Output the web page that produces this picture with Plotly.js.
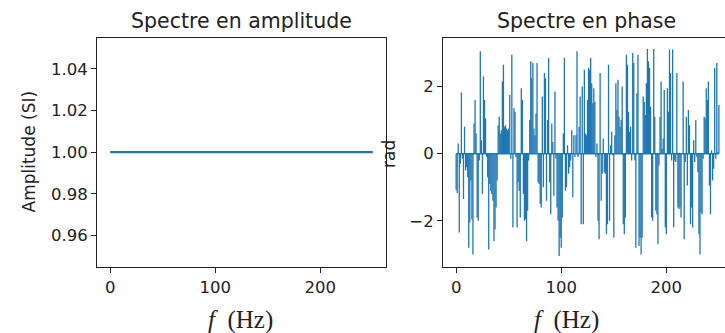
<!DOCTYPE html>
<html>
<head>
<meta charset="utf-8">
<script src="https://cdn.plot.ly/plotly-3.0.1.min.js"></script>
<style>html,body{margin:0;padding:0;background:#fff;}#chart{width:725px;height:333px;}</style>
</head>
<body>
<div id="chart"></div>
<script>
const freqs = [
0,1,2,3,4,5,6,7,8,9,10,11,12,13,14,15,16,17,18,19,20,21,22,23,24,25,26,27,28,29,
30,31,32,33,34,35,36,37,38,39,40,41,42,43,44,45,46,47,48,49,50,51,52,53,54,55,56,57,58,59,
60,61,62,63,64,65,66,67,68,69,70,71,72,73,74,75,76,77,78,79,80,81,82,83,84,85,86,87,88,89,
90,91,92,93,94,95,96,97,98,99,100,101,102,103,104,105,106,107,108,109,110,111,112,113,114,115,116,117,118,119,
120,121,122,123,124,125,126,127,128,129,130,131,132,133,134,135,136,137,138,139,140,141,142,143,144,145,146,147,148,149,
150,151,152,153,154,155,156,157,158,159,160,161,162,163,164,165,166,167,168,169,170,171,172,173,174,175,176,177,178,179,
180,181,182,183,184,185,186,187,188,189,190,191,192,193,194,195,196,197,198,199,200,201,202,203,204,205,206,207,208,209,
210,211,212,213,214,215,216,217,218,219,220,221,222,223,224,225,226,227,228,229,230,231,232,233,234,235,236,237,238,239,
240,241,242,243,244,245,246,247,248,249,250];

const amplitude = [
1,1,1,1,1,1,1,1,1,1,1,1,1,1,1,1,1,1,1,1,1,1,1,1,1,1,1,1,1,1,
1,1,1,1,1,1,1,1,1,1,1,1,1,1,1,1,1,1,1,1,1,1,1,1,1,1,1,1,1,1,
1,1,1,1,1,1,1,1,1,1,1,1,1,1,1,1,1,1,1,1,1,1,1,1,1,1,1,1,1,1,
1,1,1,1,1,1,1,1,1,1,1,1,1,1,1,1,1,1,1,1,1,1,1,1,1,1,1,1,1,1,
1,1,1,1,1,1,1,1,1,1,1,1,1,1,1,1,1,1,1,1,1,1,1,1,1,1,1,1,1,1,
1,1,1,1,1,1,1,1,1,1,1,1,1,1,1,1,1,1,1,1,1,1,1,1,1,1,1,1,1,1,
1,1,1,1,1,1,1,1,1,1,1,1,1,1,1,1,1,1,1,1,1,1,1,1,1,1,1,1,1,1,
1,1,1,1,1,1,1,1,1,1,1,1,1,1,1,1,1,1,1,1,1,1,1,1,1,1,1,1,1,1,
1,1,1,1,1,1,1,1,1,1,1];

const phase = [
-1.08,-1.18,0.3,-2.35,-0.3,1.82,-0.15,-1.35,0.8,-0.5,
-0.4,-0.7,-2.8,-2.05,-0.8,-1.95,-3.0,0.9,1.6,0.6,
-1.9,-2.0,-0.2,3.05,0.4,-1.2,2.3,1.6,1.05,-0.1,
-0.7,-2.85,-0.9,-1.1,-1.2,-1.4,-2.6,-2.25,-1.6,-0.8,
0.85,1.1,0.6,0.7,2.15,2.65,0.8,0.85,0.75,0.7,
0.75,1.75,-0.15,2.95,-2.2,1.35,1.25,-0.1,-2.2,-0.85,
-1.1,-1.9,1.95,1.6,-1.2,-2.0,-1.95,-2.6,-1.7,-0.2,
1.0,2.75,2.25,2.7,0.75,0.55,1.2,2.7,-0.85,-0.9,
-1.5,-1.6,1.7,-1.0,2.4,2.25,-1.4,1.0,2.85,-0.85,
-1.8,0.9,0.35,-1.25,1.85,-0.15,-1.6,-2.0,-3.05,-2.5,
-2.8,-1.9,0.6,2.85,-1.1,-1.0,0.25,-0.6,-0.4,-0.2,
0.7,-1.3,0.55,-0.1,0.55,3.05,-0.1,0.8,1.7,-2.1,
2.0,-2.1,2.5,0.6,0.55,1.6,2.55,2.5,2.85,2.1,
1.5,1.95,1.55,-0.1,0.3,-2.0,-2.55,2.4,-1.4,-0.6,
0.45,-0.55,-0.6,-2.4,-2.1,2.65,-2.0,0.25,0.65,-0.05,
-2.5,0.55,2.1,1.3,2.2,1.1,0.8,1.0,2.0,-2.1,
-2.4,-1.9,2.95,2.65,1.25,0.65,0.8,-0.2,3.0,2.7,
-0.2,-2.8,1.8,2.95,-2.75,-2.5,-3.0,-2.5,1.7,1.55,
1.15,2.1,3.12,2.75,2.55,1.4,-1.9,-2.0,3.12,1.1,
-1.7,-1.8,-2.7,-0.35,1.1,2.15,0.15,0.45,1.9,-2.2,
-2.4,1.95,1.25,3.1,2.4,-0.2,3.1,-2.2,-0.2,-0.25,
2.4,-1.6,-1.65,-1.6,-1.9,0.02,2.15,-2.55,-0.25,1.1,
-0.95,1.3,0.85,-2.1,-1.6,-2.2,0.4,-0.25,1.0,-0.1,
-0.55,-2.4,-3.0,-1.75,-1.8,-0.15,1.1,1.05,1.95,1.6,
2.15,-0.95,-1.8,0.1,-0.8,-0.45,2.55,-0.15,2.7,0.05,
1.45];

const ampTicks = [0.96, 0.98, 1.00, 1.02, 1.04];
const phaseTicks = [-2, 0, 2];
const freqTicks = [0, 100, 200];

const C0 = '#1f77b4';
const INK = '#222222';
const W = 725, H = 333;

// stems built from the data
const sx = [], sy = [];
for (let i = 0; i < freqs.length; i++) {
  sx.push(freqs[i], freqs[i], null);
  sy.push(0, phase[i], null);
}

const traces = [
  {x: freqs, y: amplitude, type: 'scatter', mode: 'lines', xaxis: 'x', yaxis: 'y',
   line: {color: C0, width: 2.2}, hoverinfo: 'skip'},
  {x: sx, y: sy, type: 'scatter', mode: 'lines', xaxis: 'x2', yaxis: 'y2',
   line: {color: C0, width: 1.3}, hoverinfo: 'skip'},
  {x: [freqs[0], freqs[freqs.length - 1]], y: [0, 0], type: 'scatter', mode: 'lines',
   xaxis: 'x2', yaxis: 'y2', line: {color: C0, width: 1.5}, hoverinfo: 'skip'}
];

const tickFont = {family: 'DejaVu Sans', size: 16.5, color: INK};
const ydom = [1 - 266.7 / H, 1 - 37.5 / H];
const common = {showgrid: false, zeroline: false, showline: true, linecolor: INK, linewidth: 1,
  ticks: 'outside', ticklen: 5, tickwidth: 1, tickcolor: INK, tickfont: tickFont};

const layout = {
  width: W, height: H,
  margin: {l: 0, r: 0, t: 0, b: 0},
  paper_bgcolor: '#fff', plot_bgcolor: '#fff',
  showlegend: false,
  xaxis: Object.assign({}, common, {domain: [97 / W, 386 / W], range: [-12.5, 262.5],
    tickvals: freqTicks, mirror: true, anchor: 'y'}),
  yaxis: Object.assign({}, common, {domain: ydom, range: [0.945, 1.055],
    tickvals: ampTicks, tickformat: '.2f', mirror: true, anchor: 'x'}),
  xaxis2: Object.assign({}, common, {domain: [443 / W, 1], range: [-12.5, -12.5 + 282 / 1.051],
    tickvals: freqTicks, mirror: true, anchor: 'y2'}),
  yaxis2: Object.assign({}, common, {domain: ydom, range: [-3.365, 3.46],
    tickvals: phaseTicks, mirror: false, anchor: 'x2'}),
  annotations: [
    {text: 'Spectre en amplitude', xref: 'paper', yref: 'paper', x: 241 / W, y: 1 - 21 / H,
     xanchor: 'center', yanchor: 'middle', showarrow: false,
     font: {family: 'DejaVu Sans', size: 20.5, color: INK}},
    {text: 'Spectre en phase', xref: 'paper', yref: 'paper', x: 586 / W, y: 1 - 21 / H,
     xanchor: 'center', yanchor: 'middle', showarrow: false,
     font: {family: 'DejaVu Sans', size: 20.5, color: INK}},
    {text: 'Amplitude (SI)', xref: 'paper', yref: 'paper', x: 28.5 / W, y: 1 - 152 / H,
     xanchor: 'center', yanchor: 'middle', textangle: -90, showarrow: false,
     font: {family: 'DejaVu Sans', size: 17, color: INK}},
    {text: 'rad', xref: 'paper', yref: 'paper', x: 389 / W, y: 1 - 154 / H,
     xanchor: 'center', yanchor: 'middle', textangle: -90, showarrow: false,
     font: {family: 'DejaVu Sans', size: 17, color: INK}},
    {text: '<i>f</i>&nbsp;&nbsp;(Hz)', xref: 'paper', yref: 'paper', x: 240.5 / W, y: 1 - 320 / H,
     xanchor: 'center', yanchor: 'middle', showarrow: false,
     font: {family: 'Liberation Serif', size: 25, color: INK}},
    {text: '<i>f</i>&nbsp;&nbsp;(Hz)', xref: 'paper', yref: 'paper', x: 566 / W, y: 1 - 320 / H,
     xanchor: 'center', yanchor: 'middle', showarrow: false,
     font: {family: 'Liberation Serif', size: 25, color: INK}}
  ]
};

Plotly.newPlot('chart', traces, layout, {staticPlot: true, displayModeBar: false});
</script>
</body>
</html>
